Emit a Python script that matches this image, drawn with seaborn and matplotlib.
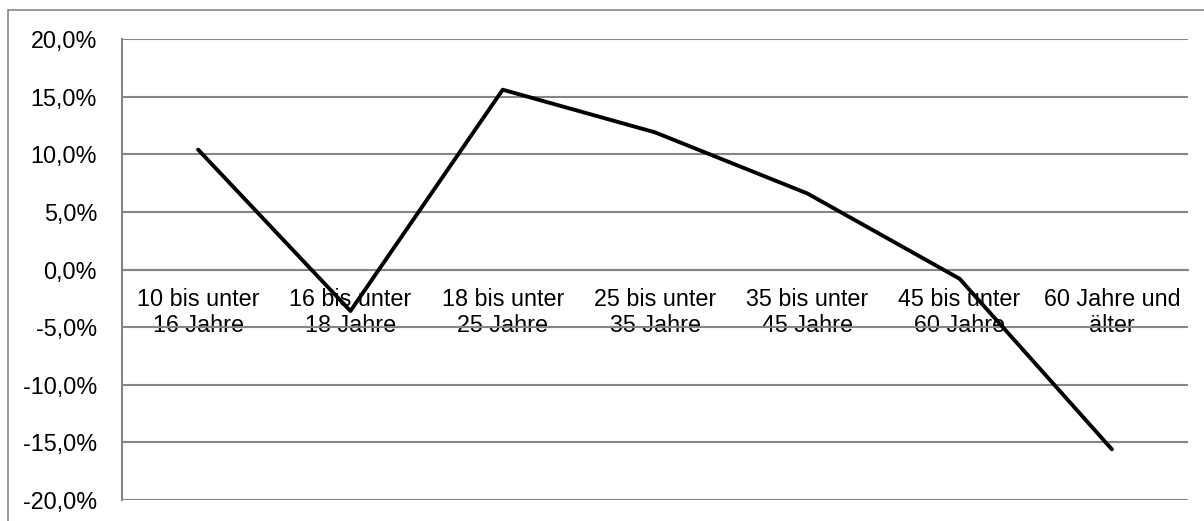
import numpy as np
import pandas as pd
import matplotlib
matplotlib.use("Agg")
import matplotlib.pyplot as plt
import seaborn as sns
from matplotlib.ticker import FuncFormatter, FixedLocator
from matplotlib.patches import Rectangle

# Daten
kategorien = ["10 bis unter\n16 Jahre", "16 bis unter\n18 Jahre", "18 bis unter\n25 Jahre",
              "25 bis unter\n35 Jahre", "35 bis unter\n45 Jahre", "45 bis unter\n60 Jahre",
              "60 Jahre und\nälter"]
veraenderung = [10.4, -3.6, 15.6, 11.9, 6.6, -0.8, -15.6]
y_ticks = [-20, -15, -10, -5, 0, 5, 10, 15, 20]

df = pd.DataFrame({"gruppe": kategorien, "wert": veraenderung})

sns.set_style("white")
plt.rcParams["font.family"] = ["Liberation Sans", "DejaVu Sans"]
grau = "#868686"

W, H = 1204, 521
fig = plt.figure(figsize=(W / 100, H / 100), dpi=100)
ax = fig.add_axes([122 / W, 21 / H, 1066 / W, 461 / H])

# Rahmen um das Diagramm
fig.patches.append(Rectangle((8 / W, -0.1), 2, 1.1 - 10 / H, transform=fig.transFigure,
                             fill=False, edgecolor=grau, linewidth=1.2))

x = np.arange(len(kategorien))
sns.lineplot(x=x, y=df["wert"], ax=ax, color="black", linewidth=2.8, zorder=3)

ax.set_xlim(-0.5, len(kategorien) - 0.5)
ax.set_ylim(-20, 20)

ax.yaxis.set_major_locator(FixedLocator(y_ticks))
ax.yaxis.set_major_formatter(FuncFormatter(lambda v, p: f"{v:.1f}%".replace(".", ",")))
ax.grid(axis="y", color=grau, linewidth=1.5)
ax.set_axisbelow(True)

for s in ["top", "right"]:
    ax.spines[s].set_visible(False)
ax.spines["left"].set_color(grau)
ax.spines["left"].set_linewidth(1.5)
ax.spines["bottom"].set_position(("data", 0))
ax.spines["bottom"].set_color(grau)
ax.spines["bottom"].set_linewidth(1.5)

ax.set_xticks(x)
ax.set_xticklabels(kategorien, fontsize=16.8, linespacing=1.2)
ax.set_xticks(np.arange(len(kategorien) + 1) - 0.5, minor=True)
ax.tick_params(axis="x", which="major", length=0, pad=13, colors="black")
ax.tick_params(axis="x", which="minor", length=5, width=1.5, color=grau, direction="out")
ax.tick_params(axis="y", length=7, width=1.5, color=grau, direction="out", pad=11,
               labelsize=16.8, labelcolor="black")
ax.set_xlabel("")
ax.set_ylabel("")

fig.savefig("out.png", dpi=100)
